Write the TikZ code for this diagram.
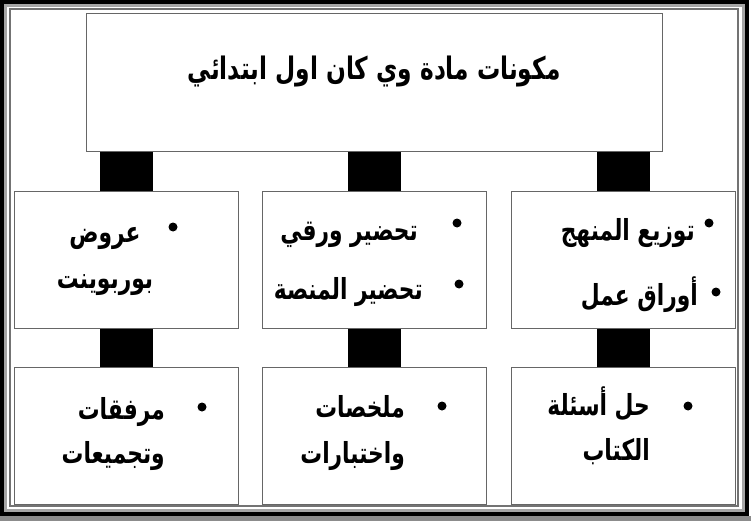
\documentclass[tikz,border=0pt]{standalone}
\usepackage{fontspec}
\newfontfamily\arabicfont[Script=Arabic, FakeStretch=0.75]{DejaVu Sans}
\TeXXeTstate=1
\tikzset{
  box/.style={draw=black!60, line width=1.4pt, rectangle, inner sep=0pt, anchor=north west, minimum width=224pt, minimum height=137pt},
  conn/.style={line width=53pt, black},
  bul/.style={circle, fill=black, inner sep=0pt, minimum size=9pt},
  txt/.style={font=\arabicfont\bfseries\fontsize{29}{34}\selectfont, inner sep=0pt, anchor=base east},
  ttl/.style={font=\arabicfont\bfseries\fontsize{31}{36}\selectfont, inner sep=0pt, anchor=base},
}
\begin{document}
\begin{tikzpicture}[x=1pt, y=-1pt]
\useasboundingbox (0,0) rectangle (751,521);
\fill[white] (0,0) rectangle (751,521);
% outer frame
\fill[black!45] (0,516) rectangle (751,521);
\draw[black!35, line width=3pt] (5.5,5.5) rectangle (743.5,510.5);
\draw[black, line width=4pt] (2,2) rectangle (747,513.5);
\draw[black!55, line width=1.6pt] (10,9) rectangle (738,506);
% boxes
\node[box, minimum width=576pt, minimum height=138pt] (top) at (86,13) {};
\node[box] (r1a) at (14,191) {};
\node[box] (r1b) at (262,191) {};
\node[box] (r1c) at (511,191) {};
\node[box] (r2a) at (14,367) {};
\node[box] (r2b) at (262,367) {};
\node[box] (r2c) at (511,367) {};
% connectors
\draw[conn] (r1a.north |- top.south) -- (r1a.north);
\draw[conn] (r1b.north |- top.south) -- (r1b.north);
\draw[conn] (r1c.north |- top.south) -- (r1c.north);
\draw[conn] (r1a.south) -- (r2a.north);
\draw[conn] (r1b.south) -- (r2b.north);
\draw[conn] (r1c.south) -- (r2c.north);
% title
\node[ttl] (title) at (374,80) {\beginR مكونات مادة وي كان اول ابتدائي\endR};
% row 1 right
\node[bul] (b1) at (709,223) {};
\node[txt] (t1) at (695,240) {\beginR توزيع المنهج\endR};
\node[bul] (b2) at (716,292) {};
\node[txt] (t2) at (698,305) {\beginR أوراق عمل\endR};
% row 1 middle
\node[bul] (b3) at (457,223) {};
\node[txt] (t3) at (418,240) {\beginR تحضير ورقي\endR};
\node[bul] (b4) at (459,284) {};
\node[txt] (t4) at (423,299) {\beginR تحضير المنصة\endR};
% row 1 left
\node[bul] (b5) at (173,227) {};
\node[txt, anchor=base] (t5) at (105,242) {\beginR عروض\endR};
\node[txt, anchor=base] (t6) at (105,288) {\beginR بوربوينت\endR};
% row 2 left
\node[bul] (b6) at (202,407) {};
\node[txt] (t7) at (165,419) {\beginR مرفقات\endR};
\node[txt] (t8) at (165,463) {\beginR وتجميعات\endR};
% row 2 middle
\node[bul] (b7) at (442,406) {};
\node[txt] (t9) at (405,417) {\beginR ملخصات\endR};
\node[txt] (t10) at (405,463) {\beginR واختبارات\endR};
% row 2 right
\node[bul] (b8) at (688,406) {};
\node[txt] (t11) at (650,415) {\beginR حل أسئلة\endR};
\node[txt] (t12) at (650,460) {\beginR الكتاب\endR};
\end{tikzpicture}
\end{document}
